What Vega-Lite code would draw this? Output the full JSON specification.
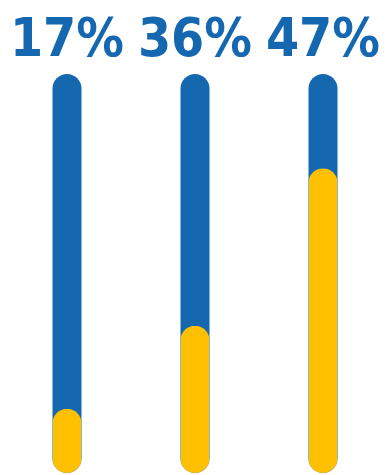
{
  "$schema": "https://vega.github.io/schema/vega-lite/v6.json",
  "width": 390,
  "height": 475,
  "autosize": {"type": "none"},
  "padding": 0,
  "background": "white",
  "config": {"view": {"stroke": null}},
  "data": {"values": [
    {"group": "A", "label": "17%", "fill": 16.1},
    {"group": "B", "label": "36%", "fill": 36.9},
    {"group": "C", "label": "47%", "fill": 76.4}
  ]},
  "encoding": {
    "x": {"field": "group", "type": "nominal", "scale": {"range": [3, 387], "paddingInner": 0, "paddingOuter": 0}, "axis": null}
  },
  "layer": [
    {
      "mark": {"type": "bar", "width": 29, "cornerRadius": 14.5, "color": "#1568B0"},
      "encoding": {
        "y": {"datum": 100, "type": "quantitative", "scale": {"domain": [0, 100], "range": [473, 74], "nice": false, "zero": true}, "axis": null}
      }
    },
    {
      "mark": {"type": "bar", "width": 29, "cornerRadius": 14.5, "color": "#FFC000"},
      "encoding": {
        "y": {"field": "fill", "type": "quantitative"}
      }
    },
    {
      "mark": {"type": "text", "font": "'DejaVu Sans Condensed', 'DejaVu Sans', sans-serif", "fontWeight": "bold", "fontSize": 53, "color": "#1568B0", "baseline": "alphabetic", "align": "center"},
      "encoding": {
        "y": {"datum": 104.5, "type": "quantitative"},
        "text": {"field": "label"}
      }
    }
  ]
}
